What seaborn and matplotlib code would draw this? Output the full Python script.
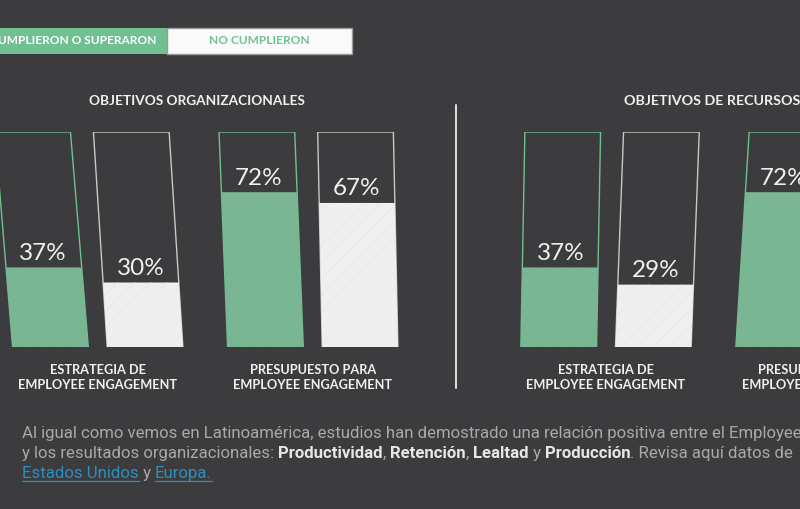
import numpy as np
import pandas as pd
import matplotlib
matplotlib.use('Agg')
import matplotlib.pyplot as plt
from matplotlib.transforms import Affine2D
from matplotlib.patches import Rectangle
from matplotlib.lines import Line2D
import seaborn as sns

# Datos
categories = ['ESTRATEGIA DE\nEMPLOYEE ENGAGEMENT', 'PRESUPUESTO PARA\nEMPLOYEE ENGAGEMENT']
status = ['CUMPLIERON O SUPERARON', 'NO CUMPLIERON']
org_cumplieron = [37, 72]
org_no_cumplieron = [30, 67]
rh_cumplieron = [37, 72]
rh_no_cumplieron = [29]  # el segundo valor queda fuera del recorte

# Colores
BG = '#3c3c3e'
GREEN = '#71c092'
GREEN_D = '#6cbb8e'
LIGHT = '#efefef'
LIGHT_D = '#e8e8e8'
FRAME = '#c8c8c8'
TEXT = '#f0f0f0'
PARA = '#a9a9a9'
BOLD = '#e6e6e6'
LINK = '#2a8fc4'

sns.set_theme(style='white')
plt.rcParams['font.family'] = ['Lato', 'DejaVu Sans']
plt.rcParams['hatch.linewidth'] = 0.6

W, H = 800, 509
SCALE = 215  # px por unidad de categoria (y por 100%)
PFONT = ['Roboto', 'DejaVu Sans']
PSIZE = 12.1
fig = plt.figure(figsize=(8, 5.09), dpi=100, facecolor=BG)


def make_df(cumpl, no):
    rows = [(c, status[0], v) for c, v in zip(categories, cumpl)]
    rows += [(c, status[1], v) for c, v in zip(categories, no)]
    return pd.DataFrame(rows, columns=['categoria', 'estado', 'valor'])


def draw_group(x0_px, x1_px, cat0_px, df):
    ax = fig.add_axes([x0_px / W, (H - 347) / H, (x1_px - x0_px) / W, SCALE / H])
    ax.set_facecolor('none')
    frame = df.assign(valor=100)
    sns.barplot(data=frame, x='categoria', y='valor', hue='estado', order=categories,
                hue_order=status, palette=[GREEN, FRAME], fill=False, width=0.88, gap=0.2,
                linewidth=1, legend=False, errorbar=None, ax=ax)
    n_frames = len(ax.patches)
    sns.barplot(data=df, x='categoria', y='valor', hue='estado', order=categories,
                hue_order=status, palette=[GREEN, LIGHT], width=0.88, gap=0.2,
                linewidth=0, hatch='//', legend=False, errorbar=None, ax=ax)
    ax.set_xlim((x0_px - cat0_px) / SCALE, (x1_px - cat0_px) / SCALE)
    ax.set_ylim(0, 100)

    # perspectiva: inclinar cada barra segun su posicion
    for i, p in enumerate(ax.patches):
        xc = p.get_x() + p.get_width() / 2
        xc_px = cat0_px + xc * SCALE
        k = (xc_px - 465) * 0.043 / SCALE / 100
        p.set_transform(Affine2D(np.array([[1, k, 0], [0, 1, 0], [0, 0, 1]])) + ax.transData)
        if i >= n_frames:
            fc = p.get_facecolor()
            p.set_edgecolor(GREEN_D if fc[1] - fc[0] > 0.1 else LIGHT_D)
            p.set_linewidth(0)
            h = p.get_height()
            ax.text(xc + k * (h + 3.5), h + 3.5, f'{h:.0f}%', ha='center', va='baseline',
                    fontsize=17.5, color=TEXT)

    ax.set_xlabel('')
    ax.set_ylabel('')
    ax.set_yticks([])
    ax.tick_params(axis='x', length=0, pad=12, labelsize=9.2, labelcolor=TEXT)
    for t in ax.get_xticklabels():
        t.set_linespacing(1.3)
        t.set_fontweight('bold')
    sns.despine(ax=ax, left=True, bottom=True)
    return ax


draw_group(0, 456, 97.75, make_df(org_cumplieron, org_no_cumplieron))
# el eje derecho sigue mas alla del borde; la figura lo recorta
draw_group(456, 1000, 606, make_df(rh_cumplieron, rh_no_cumplieron))

# Leyenda superior
fig.patches.append(Rectangle((0, 1 - 54 / H), 167 / W, 26 / H, transform=fig.transFigure,
                             facecolor=GREEN, edgecolor='none'))
fig.patches.append(Rectangle((167 / W, 1 - 54 / H), 185 / W, 26 / H, transform=fig.transFigure,
                             facecolor='#fafafa', edgecolor='#9a9a9a', linewidth=1))
fig.text(156 / W, 1 - 41 / H, status[0], ha='right', va='center', fontsize=8.6,
         color='white', weight='bold')
fig.text(259.5 / W, 1 - 41 / H, status[1], ha='center', va='center', fontsize=8.6,
         color=GREEN, weight='bold')

# Titulos y separador
fig.text(197 / W, 1 - 101 / H, 'OBJETIVOS ORGANIZACIONALES', ha='center', va='center',
         fontsize=9.8, color=TEXT, weight='bold')
fig.text(624 / W, 1 - 101 / H, 'OBJETIVOS DE RECURSOS HUMANOS', ha='left', va='center',
         fontsize=10.3, color=TEXT, weight='bold')
fig.lines.append(Line2D([456 / W, 456 / W], [1 - 105 / H, 1 - 388 / H], transform=fig.transFigure,
                        color='#d8d8d8', linewidth=1.5))

# Parrafo inferior
renderer = fig.canvas.get_renderer()
styles = {
    'n': dict(color=PARA, weight='normal'),
    'b': dict(color=BOLD, weight='bold'),
    'l': dict(color=LINK, weight='normal'),
}


def text_width(s, st):
    def w(txt):
        t = fig.text(0, 0, txt, fontsize=PSIZE, family=PFONT, **styles[st])
        bb = t.get_window_extent(renderer)
        t.remove()
        return bb.width
    return w('|' + s + '|') - w('||')


lines = [
    [('Al igual como vemos en Latinoamérica, estudios han demostrado una relación positiva entre el Employee Engagement', 'n')],
    [('y los resultados organizacionales: ', 'n'), ('Productividad', 'b'), (', ', 'n'),
     ('Retención', 'b'), (', ', 'n'), ('Lealtad', 'b'), (' y ', 'n'), ('Producción', 'b'),
     ('. Revisa aquí datos de', 'n')],
    [('Estados Unidos', 'l'), (' y ', 'n'), ('Europa.', 'l')],
]
baselines = [438, 458, 478]
for segs, yb in zip(lines, baselines):
    x = 22
    for s, st in segs:
        fig.text(x / W, 1 - yb / H, s, ha='left', va='baseline', fontsize=PSIZE,
                 family=PFONT, **styles[st])
        wpx = text_width(s, st)
        if st == 'l':
            fig.lines.append(Line2D([x / W, (x + wpx) / W], [1 - (yb + 2.5) / H] * 2,
                                    transform=fig.transFigure, color=LINK, linewidth=0.9))
        x += wpx

fig.savefig('out.png', dpi=100, facecolor=BG)
